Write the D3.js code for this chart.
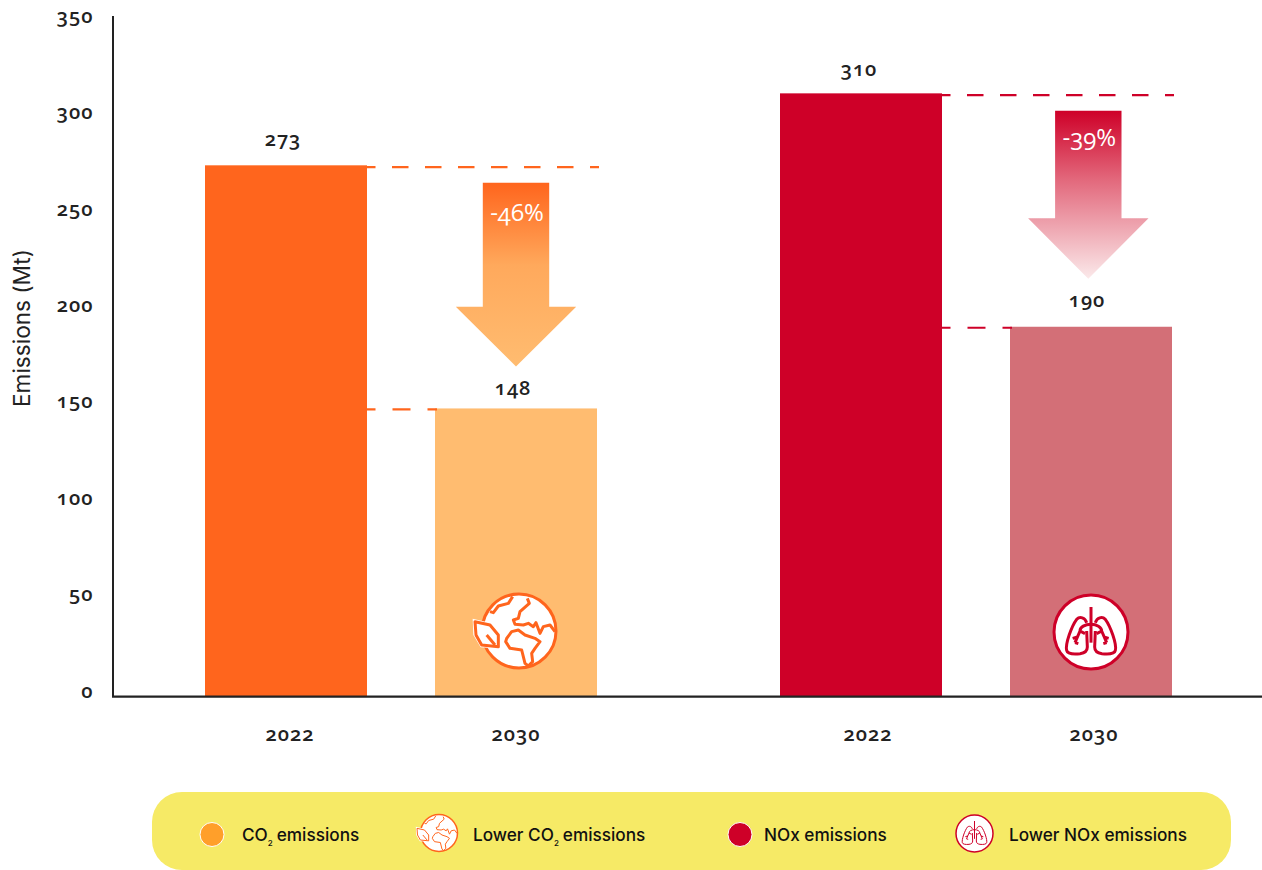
<!DOCTYPE html>
<html><head><meta charset="utf-8">
<script src="https://cdnjs.cloudflare.com/ajax/libs/d3/7.8.5/d3.min.js"></script>
<style>
html,body{margin:0;padding:0;background:#fff;overflow:hidden}
svg{display:block}
text{font-family:"Open Sans",sans-serif;fill:#222;font-variant-numeric:oldstyle-nums;font-feature-settings:"onum" 1}
.num{font-weight:600;font-size:20px;letter-spacing:1px}
.leg{font-family:Inter,sans-serif;font-weight:500;font-size:17.2px;fill:#111;font-feature-settings:normal;font-variant-numeric:normal}
</style></head><body>
<svg id="chart" width="1262" height="870"></svg>
<script>
const groups = ["CO2","NOx"];
const years = ["2022","2030"];
const co2Values = [273,148];
const noxValues = [310,190];
const changeLabels = ["-46%","-39%"];
const yTicks = [0,50,100,150,200,250,300,350];
const legendItems = [
 {kind:"dot",color:"#FF9F2A",label:"CO",sub:"2",rest:"emissions"},
 {kind:"globe",label:"Lower CO",sub:"2",rest:"emissions"},
 {kind:"dot",color:"#CE0028",label:"NOx emissions"},
 {kind:"lungs",label:"Lower NOx emissions"}
];
const seriesValues = {CO2:co2Values,NOx:noxValues};

// styling (not data)
const barColors = {CO2:["#FF651D","#FFBC70"],NOx:["#CE0028","#D36F77"]};
const gradMid = {CO2:[.45,"#FFA95C"],NOx:[.4,"#E2667A"]};
const arrowEnd = {CO2:"#FFBC70",NOx:"#FBE9EA"};
const valueDy = {CO2:[27,21],NOx:[25,27]};
const valueDx = {CO2:[-3,-3],NOx:[-2,-4]};
const yearDx = {CO2:[4,0],NOx:[7,3]};

const svg = d3.select("#chart");
const y = d3.scaleLinear().domain([0,350]).range([696.3,15.55]);
const yLabel = d3.scaleLinear().domain([0,350]).range([690.5,15.5]);
const xGroup = d3.scaleBand().domain(groups).range([205,1172]).paddingInner(183/575).paddingOuter(0);
const xYear = d3.scaleBand().domain(years).range([0,xGroup.bandwidth()]).paddingInner(68/230).paddingOuter(0);

const defs = svg.append("defs");
groups.forEach(g=>{
  const lg = defs.append("linearGradient").attr("id","grad"+g).attr("x1",0).attr("x2",0).attr("y1",0).attr("y2",1);
  lg.append("stop").attr("offset",0).attr("stop-color",barColors[g][0]);
  lg.append("stop").attr("offset",gradMid[g][0]).attr("stop-color",gradMid[g][1]);
  lg.append("stop").attr("offset",1).attr("stop-color",arrowEnd[g]);
});

groups.forEach((g,gi)=>{
  const gx = xGroup(g), vals = seriesValues[g];
  const rows = years.map((yr,i)=>({yr,v:vals[i],i}));
  svg.append("g").selectAll("rect").data(rows).join("rect")
    .attr("x",d=>gx+xYear(d.yr)).attr("width",xYear.bandwidth())
    .attr("y",d=>y(d.v)).attr("height",d=>y(0)-y(d.v)).attr("fill",d=>barColors[g][d.i]);
  svg.append("g").selectAll("text").data(rows).join("text").attr("class","num")
    .attr("x",d=>gx+xYear(d.yr)+xYear.bandwidth()/2+valueDx[g][d.i]).attr("y",d=>y(d.v)-valueDy[g][d.i]).attr("dy",".36em").attr("text-anchor","middle").text(d=>d.v);
  svg.append("g").selectAll("text").data(rows).join("text").attr("class","num")
    .attr("x",d=>gx+xYear(d.yr)+xYear.bandwidth()/2+yearDx[g][d.i]).attr("y",734).attr("dy",".36em").attr("text-anchor","middle").text(d=>d.yr);
  // dashed guides
  const x0 = gx+xYear.bandwidth(), xB = gx+xYear("2030"), x1 = xB+xYear.bandwidth();
  const dash = (xa,xb,yy,on,off)=>svg.append("line").attr("x1",xa).attr("x2",xb).attr("y1",yy).attr("y2",yy)
     .attr("stroke",barColors[g][0]).attr("stroke-width",2.2).attr("stroke-dasharray",on+" "+off).attr("stroke-dashoffset",on-8.5);
  dash(x0,x1+2,y(vals[0])+1.8,16.5,16.5);
  dash(x0,xB+2,y(vals[1])+1,18,17);
  // arrow
  const cx = xB+xYear.bandwidth()/2+(gi?-2.7:0);
  const top = y(vals[0])+17.5, tip = y(vals[1])-(gi?48:42), neck = top+(gi?107.5:124);
  const a = d3.path();
  a.moveTo(cx-33.2,top);a.lineTo(cx+33.2,top);a.lineTo(cx+33.2,neck);a.lineTo(cx+60.2,neck);a.lineTo(cx,tip);a.lineTo(cx-60.2,neck);a.lineTo(cx-33.2,neck);a.closePath();
  svg.append("path").attr("d",a.toString()).attr("fill","url(#grad"+g+")");
  svg.append("text").attr("x",cx+1).attr("y",top+(gi?27:30)).attr("dy",".36em").attr("text-anchor","middle")
    .style("fill","#fff").style("font-weight",400).style("font-size","24px").text(changeLabels[gi]);
});

// axes
const axY = svg.append("g");
axY.append("line").attr("x1",113).attr("x2",113).attr("y1",16).attr("y2",697).attr("stroke","#222").attr("stroke-width",2);
axY.append("line").attr("x1",112).attr("x2",1262).attr("y1",696.7).attr("y2",696.7).attr("stroke","#222").attr("stroke-width",2.2);
svg.append("g").selectAll("text").data(yTicks).join("text").attr("class","num")
  .attr("x",93.5).attr("y",d=>yLabel(d)).attr("dy",".36em").attr("text-anchor","end").text(d=>d);
svg.append("text").attr("transform","translate(22,328) rotate(-90)").attr("text-anchor","middle").attr("dy",".36em")
  .style("font-family","Inter,sans-serif").style("font-size","22.6px").style("font-weight",400).text("Emissions (Mt)");

// icons, contours traced at 3x around the centre
function globe(sel,cx,cy,k,w){
  const c="#FF651D";
  const t=sel.append("g").attr("transform",`translate(${cx},${cy}) scale(${k})`);
  t.append("circle").attr("r",37).attr("fill","#fff").attr("stroke",c).attr("stroke-width",3);
  const p=t.append("g").attr("fill","none").attr("stroke",c).attr("stroke-width",w).attr("stroke-linejoin","round").attr("transform","scale(.3333) translate(-237,-183)");
  ["M150,125L160,128L175,108L205,100L218,80",
   "M262,85L268,100L240,125L235,145L220,150L225,163L250,165L265,160L280,170L288,158L300,190L310,170L330,165L345,185",
   "M200,205L215,185L235,180L255,195L285,205L300,215L285,235L275,250L278,275L265,288L255,280L245,240L210,235L197,215Z"
  ].forEach(d=>p.append("path").attr("d",d));
  p.append("path").attr("d","M98,146L150,158L182,192L182,236L122,232L100,195Z").attr("fill","#fff").attr("stroke","none");
  p.append("path").attr("d","M105,155L150,165L175,195L175,230L125,225L108,195Z");
  p.append("path").attr("d","M140,195L165,225");
}
function lungs(sel,cx,cy,k,w){
  const c="#CE0028";
  const t=sel.append("g").attr("transform",`translate(${cx},${cy}) scale(${k})`);
  t.append("circle").attr("r",37).attr("fill","#fff").attr("stroke",c).attr("stroke-width",3);
  const p=t.append("g").attr("fill","none").attr("stroke",c).attr("stroke-width",w).attr("stroke-linejoin","round").attr("transform","scale(.3333) translate(-183,-153)");
  ["M183,78V185",
   "M183,130C165,130 150,138 150,150L135,185M150,150L165,158M142,168L128,172M135,185L145,188",
   "M183,130C200,130 215,138 215,150L230,185M215,150L200,158M222,168L236,172M230,185L220,188",
   "M170,125C165,110 150,105 140,115C125,135 105,190 110,208C112,218 130,220 150,218C165,216 172,210 172,198L170,150",
   "M196,125C201,110 216,105 226,115C241,135 261,190 256,208C254,218 236,220 216,218C201,216 194,210 194,198L196,150"
  ].forEach(d=>p.append("path").attr("d",d));
}
globe(svg,519,631,1,9);
lungs(svg,1091,632,1,9);

// legend
const leg = svg.append("g");
leg.append("rect").attr("x",152).attr("y",792).attr("width",1079).attr("height",78).attr("rx",30).attr("fill","#F6EA66");
const legX=[212,438,740,974], textX=[242,473,764,1009];
legendItems.forEach((it,i)=>{
  if(it.kind==="dot") leg.append("circle").attr("cx",legX[i]).attr("cy",834.5).attr("r",12).attr("fill",it.color).attr("stroke","#fff").attr("stroke-width",1);
  else if(it.kind==="globe") globe(leg,legX[i]+1,833,.5,6);
  else lungs(leg,legX[i]+.5,833.5,.5,6);
  const t=leg.append("text").attr("class","leg").attr("x",textX[i]).attr("y",835).attr("dy",".36em");
  t.append("tspan").text(it.label);
  if(it.sub){t.append("tspan").attr("dy",5).style("font-size","8px").text(it.sub);t.append("tspan").attr("dy",-5).attr("dx",4).text(it.rest);}
});
</script></body></html>
